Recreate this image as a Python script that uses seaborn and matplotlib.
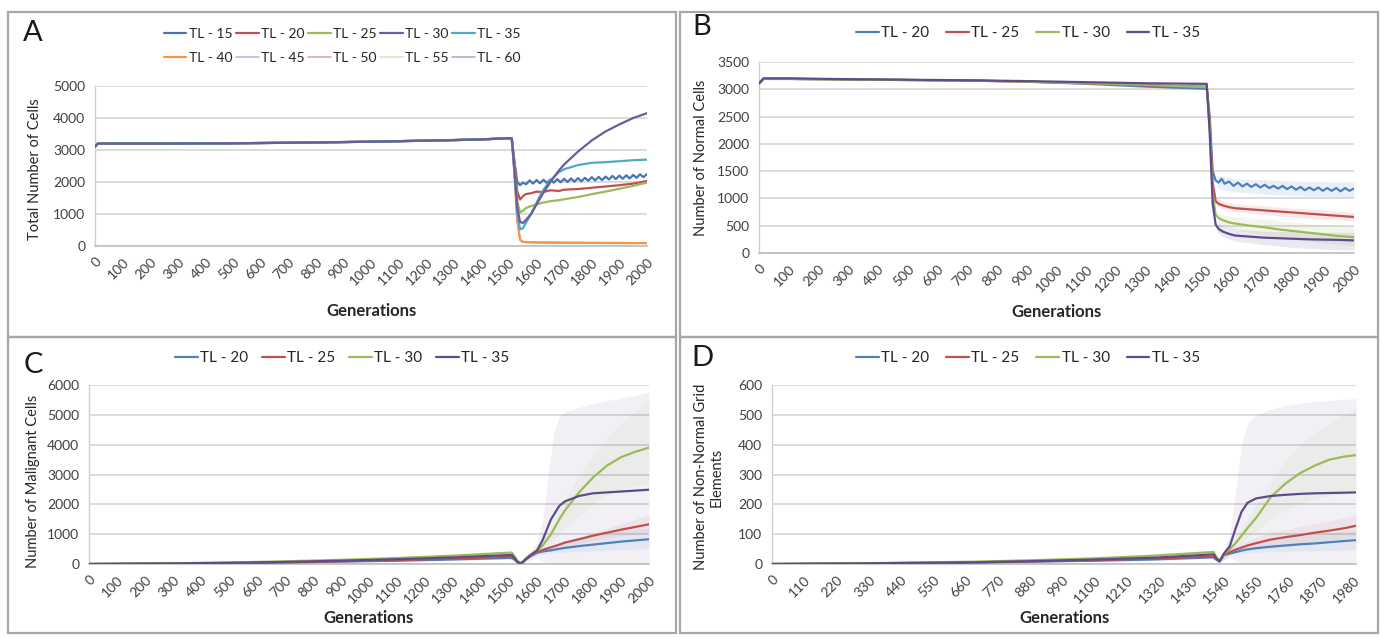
import numpy as np
import pandas as pd
import matplotlib
matplotlib.use("Agg")
import matplotlib.pyplot as plt
import seaborn as sns
from matplotlib.patches import Rectangle

# ---------------- DATA ----------------
SERIES_A = ["TL - 15", "TL - 20", "TL - 25", "TL - 30", "TL - 35",
            "TL - 40", "TL - 45", "TL - 50", "TL - 55", "TL - 60"]
SERIES_BCD = ["TL - 20", "TL - 25", "TL - 30", "TL - 35"]

# Panel A: total number of cells
A_GEN_PRE = [0, 10, 250, 500, 750, 1000, 1250, 1400, 1500, 1510]
A_PRE = [3100, 3200, 3200, 3210, 3230, 3260, 3300, 3330, 3370, 3360]
A_GEN_POST = [1520, 1530, 1540, 1550, 1560, 1580, 1600, 1620, 1650, 1680,
              1700, 1750, 1800, 1850, 1900, 1950, 2000]
A_TL15_GEN = [1520, 1530, 1540, 1550, 1562, 1575, 1587, 1600, 1612, 1625,
              1637, 1650, 1662, 1675, 1687, 1700, 1712, 1725, 1737, 1750,
              1762, 1775, 1787, 1800, 1812, 1825, 1837, 1850, 1862, 1875,
              1887, 1900, 1912, 1925, 1937, 1950, 1962, 1975, 1987, 2000]
A_TL15 = [2600, 2000, 1900, 1980, 1930, 2050, 1950, 2060, 1960, 2070,
          1970, 2080, 1980, 2090, 1990, 2100, 2000, 2110, 2010, 2120,
          2020, 2130, 2040, 2150, 2050, 2160, 2060, 2170, 2080, 2190,
          2090, 2200, 2100, 2210, 2110, 2220, 2130, 2240, 2150, 2250]
A_TL20 = [2600, 1700, 1450, 1550, 1620, 1650, 1700, 1680, 1740, 1720,
          1760, 1780, 1820, 1860, 1900, 1950, 2030]
A_TL25 = [2500, 1400, 1050, 1100, 1180, 1250, 1300, 1350, 1400, 1430,
          1460, 1530, 1620, 1700, 1790, 1880, 1980]
A_TL30 = [2400, 1200, 750, 720, 800, 1000, 1300, 1600, 2000, 2350,
          2550, 2950, 3300, 3580, 3800, 4000, 4150]
A_TL35 = [2300, 1000, 520, 550, 700, 1000, 1350, 1700, 2050, 2300,
          2400, 2530, 2600, 2620, 2650, 2680, 2700]
A_TL40 = [2200, 800, 200, 130, 120, 115, 110, 110, 105, 105,
          100, 100, 100, 95, 95, 90, 90]
A_TL45 = [2200, 800, 210, 140, 125, 120, 115, 115, 110, 110,
          105, 105, 100, 100, 100, 95, 95]
A_TL50 = [2200, 800, 190, 125, 115, 110, 108, 105, 100, 100,
          98, 96, 95, 92, 90, 88, 86]
A_TL55 = [2200, 800, 220, 145, 130, 125, 120, 118, 115, 112,
          110, 108, 105, 103, 100, 98, 96]
A_TL60 = [2200, 800, 200, 135, 122, 118, 112, 110, 108, 106,
          104, 102, 100, 98, 96, 94, 92]

# Panel B: number of normal cells
B_GEN_PRE = [0, 15, 100, 300, 500, 700, 900, 1100, 1300, 1500, 1505]
B_PRE_TL20 = [3100, 3190, 3190, 3180, 3170, 3160, 3140, 3100, 3050, 3010, 3000]
B_PRE_TL25 = [3100, 3190, 3190, 3180, 3170, 3160, 3140, 3110, 3070, 3050, 3050]
B_PRE_TL30 = [3100, 3190, 3190, 3180, 3170, 3160, 3140, 3110, 3080, 3040, 3040]
B_PRE_TL35 = [3110, 3200, 3200, 3185, 3175, 3165, 3150, 3130, 3110, 3100, 3100]
B_GEN_POST = [1515, 1525, 1535, 1545, 1560, 1580, 1600, 1650, 1700, 1750,
              1800, 1850, 1900, 1950, 2000]
B_TL20_GEN = [1515, 1525, 1535, 1545, 1555, 1565, 1580, 1595, 1610, 1625,
              1640, 1655, 1670, 1685, 1700, 1715, 1730, 1745, 1760, 1775,
              1790, 1805, 1820, 1835, 1850, 1865, 1880, 1895, 1910, 1925,
              1940, 1955, 1970, 1985, 2000]
B_POST_TL20 = [2500, 1500, 1330, 1290, 1360, 1270, 1310, 1230, 1290, 1220,
               1270, 1210, 1260, 1200, 1250, 1190, 1230, 1180, 1230, 1170,
               1220, 1160, 1210, 1150, 1200, 1150, 1200, 1140, 1190, 1140,
               1190, 1130, 1190, 1140, 1180]
B_POST_TL25 = [2400, 1300, 950, 900, 870, 840, 820, 800, 780, 760, 740, 720, 700, 680, 660]
B_POST_TL30 = [2300, 1100, 700, 640, 600, 560, 540, 500, 470, 430, 400, 370, 340, 310, 290]
B_POST_TL35 = [2200, 900, 520, 440, 390, 350, 320, 300, 280, 270, 260, 250, 245, 240, 230]
B_BAND_GEN = [1540, 1560, 1600, 1700, 1800, 1900, 2000]
B_LO_TL20 = [1200, 1150, 1120, 1080, 1050, 1040, 1030]
B_HI_TL20 = [1420, 1400, 1360, 1340, 1320, 1310, 1300]
B_LO_TL25 = [850, 800, 760, 700, 650, 620, 590]
B_HI_TL25 = [1000, 950, 900, 860, 820, 790, 740]
B_LO_TL30 = [560, 500, 430, 330, 250, 180, 130]
B_HI_TL30 = [760, 700, 660, 620, 560, 520, 480]
B_LO_TL35 = [380, 300, 220, 150, 100, 70, 50]
B_HI_TL35 = [560, 500, 440, 400, 390, 380, 380]

# Panel C: number of malignant cells
C_GEN = [0, 100, 300, 500, 700, 900, 1100, 1300, 1500, 1510, 1520, 1530, 1540,
         1550, 1560, 1580, 1600, 1620, 1650, 1680, 1700, 1750, 1800, 1850,
         1900, 1950, 2000]
C_TL20 = [0, 5, 15, 30, 50, 80, 110, 150, 200, 200, 150, 60, 20, 60, 150, 280,
          380, 420, 460, 510, 540, 600, 650, 700, 750, 790, 830]
C_TL25 = [0, 5, 15, 35, 60, 90, 130, 180, 240, 240, 170, 70, 20, 70, 160, 300,
          400, 470, 560, 650, 720, 830, 950, 1050, 1150, 1240, 1330]
C_TL30 = [0, 8, 25, 50, 90, 140, 200, 280, 380, 380, 260, 100, 30, 80, 180, 320,
          450, 620, 1000, 1500, 1800, 2400, 2900, 3300, 3580, 3760, 3900]
C_TL35 = [0, 6, 20, 40, 70, 110, 160, 220, 300, 300, 200, 80, 20, 70, 170, 320,
          450, 800, 1500, 1950, 2100, 2280, 2370, 2400, 2430, 2460, 2490]
C_BAND_GEN = [1500, 1540, 1580, 1600, 1620, 1640, 1660, 1680, 1700, 1750,
              1800, 1850, 1900, 1950, 2000]
C_HI_TL35 = [350, 40, 500, 700, 1500, 3000, 4400, 4950, 5100, 5250, 5380, 5480, 5560, 5650, 5750]
C_LO_TL35 = [250, 0, 150, 200, 100, 0, 0, 0, 0, 0, 0, 0, 0, 0, 0]
C_HI_TL30 = [500, 50, 450, 600, 800, 1100, 1400, 1800, 2200, 3000, 3700, 4200, 4700, 5100, 5500]
C_LO_TL30 = [260, 10, 200, 300, 450, 600, 800, 1000, 1200, 1600, 2000, 2300, 2500, 2600, 2700]
C_HI_TL25 = [300, 30, 350, 460, 550, 600, 660, 720, 780, 900, 1050, 1200, 1350, 1500, 1650]
C_LO_TL25 = [180, 10, 250, 340, 380, 420, 460, 520, 560, 680, 800, 880, 950, 1000, 1050]
C_HI_TL20 = [260, 30, 330, 430, 500, 550, 600, 680, 750, 850, 950, 1050, 1100, 1150, 1200]
C_LO_TL20 = [140, 10, 220, 300, 330, 350, 370, 390, 400, 420, 440, 460, 480, 500, 520]

# Panel D: number of non-normal grid elements
D_GEN = [0, 100, 300, 500, 700, 900, 1100, 1300, 1500, 1505, 1515, 1525, 1540,
         1560, 1580, 1600, 1620, 1650, 1700, 1750, 1800, 1850, 1900, 1950, 1990]
D_TL20 = [0, 0.5, 1.5, 3, 5, 8, 11, 15, 22, 22, 14, 8, 30, 35, 40, 45, 49, 53,
          58, 62, 66, 69, 73, 77, 80]
D_TL25 = [0, 0.6, 2, 3.5, 6, 9, 13, 18, 25, 25, 15, 9, 32, 40, 48, 55, 62, 70,
          82, 90, 97, 105, 112, 120, 128]
D_TL30 = [0, 0.8, 2.5, 5, 8, 13, 19, 28, 40, 40, 22, 10, 33, 50, 70, 95, 120,
          155, 225, 270, 305, 330, 350, 360, 365]
D_TL35 = [0, 0.6, 2, 4, 6, 10, 15, 21, 32, 32, 18, 9, 35, 60, 120, 175, 205,
          220, 228, 232, 235, 237, 238, 239, 240]
D_BAND_GEN = [1500, 1525, 1560, 1580, 1600, 1620, 1650, 1700, 1750, 1800,
              1850, 1900, 1950, 1990]
D_HI_TL35 = [35, 12, 100, 250, 400, 470, 500, 520, 530, 540, 545, 548, 552, 555]
D_LO_TL35 = [25, 6, 20, 10, 0, 0, 0, 0, 0, 0, 0, 0, 0, 0]
D_HI_TL30 = [50, 14, 60, 90, 120, 150, 200, 280, 350, 400, 440, 470, 500, 520]
D_LO_TL30 = [30, 8, 40, 55, 70, 90, 110, 150, 180, 200, 220, 230, 235, 240]
D_HI_TL25 = [30, 10, 48, 58, 68, 78, 90, 105, 115, 125, 135, 145, 155, 165]
D_LO_TL25 = [20, 6, 33, 38, 43, 48, 52, 60, 65, 70, 75, 80, 85, 90]
D_HI_TL20 = [26, 10, 42, 50, 58, 65, 72, 80, 88, 95, 100, 105, 110, 115]
D_LO_TL20 = [18, 6, 28, 32, 35, 37, 39, 41, 42, 43, 44, 45, 46, 48]

TICKS_ABC = list(range(0, 2001, 100))
TICKS_D = list(range(0, 1981, 110))

# ---------------- STYLE ----------------
sns.set_theme(style="white")
plt.rcParams["font.family"] = ["Lato", "DejaVu Sans"]

COL_A = ["#4A74AE", "#C0504D", "#9BBB59", "#6B5C9E", "#4BACC6",
         "#F79646", "#A9B8D6", "#D9A3A2", "#D7E4BD", "#B3A2C7"]
COL4 = ["#4F81BD", "#C0504D", "#9BBB59", "#5F4B8B"]

W, H = 1381, 637
fig = plt.figure(figsize=(W / 100, H / 100), dpi=100)
fig.patch.set_facecolor("white")


def ax_px(l, t, r, b):
    return fig.add_axes([l / W, 1 - b / H, (r - l) / W, (b - t) / H])


def fx(x):
    return x / W


def fy(y):
    return 1 - y / H


def line(ax, gens, vals, color, label, lw=1.6, z=3):
    df = pd.DataFrame({"Generations": gens, "value": vals})
    sns.lineplot(data=df, x="Generations", y="value", color=color, lw=lw,
                 label=label, ax=ax, estimator=None, sort=False, zorder=z)


def band(ax, gens, lo, hi, color, alpha=0.15):
    ax.fill_between(gens, lo, hi, color=color, alpha=alpha, lw=0, zorder=1)


def style_ax(ax, xmax, xticks, ymax, ystep):
    ax.set_xlim(0, xmax)
    ax.set_ylim(0, ymax)
    ax.set_xticks(xticks)
    ax.set_xticklabels([str(t) for t in xticks], rotation=45, ha="right",
                       va="top", rotation_mode="anchor")
    ax.set_yticks(np.arange(0, ymax + 1, ystep))
    ax.yaxis.grid(True, color="#D9D9D9", lw=1.3)
    ax.xaxis.grid(False)
    ax.set_axisbelow(True)
    for s in ["top", "right"]:
        ax.spines[s].set_visible(False)
    ax.spines["left"].set_color("#D0D0D0")
    ax.spines["bottom"].set_color("#BFBFBF")
    ax.spines["left"].set_linewidth(1.0)
    ax.spines["bottom"].set_linewidth(1.2)
    ax.tick_params(axis="both", colors="#C8C8C8", labelcolor="#404040",
                   labelsize=10, length=4, width=1, direction="out")
    ax.tick_params(axis="x", pad=3)
    ax.tick_params(axis="y", pad=3)
    ax.set_xlabel("")
    ax.set_ylabel("")
    ax.set_facecolor("none")
    if ax.get_legend() is not None:
        ax.get_legend().remove()


def legend(ax, cx, cy, ncol, fs, hl, cs, ls=0.8, rows=1):
    h, l = ax.get_legend_handles_labels()
    if rows > 1:
        # matplotlib fills legends column by column: reorder to read by rows
        order = [r * ncol + c for c in range(ncol) for r in range(rows)]
        h = [h[k] for k in order]
        l = [l[k] for k in order]
    ax.legend(h, l, loc="center", bbox_to_anchor=(fx(cx), fy(cy)),
              bbox_transform=fig.transFigure, ncol=ncol, frameon=False,
              fontsize=fs, handlelength=hl, handletextpad=0.15,
              columnspacing=cs, borderpad=0, labelspacing=ls,
              labelcolor="#262626")


# ---------------- FRAMES ----------------
for (x0, y0, x1, y1) in [(8, 12, 676, 337), (680, 12, 1378, 337),
                         (8, 337, 676, 633), (680, 337, 1378, 633)]:
    fig.add_artist(Rectangle((fx(x0), fy(y1)), (x1 - x0) / W, (y1 - y0) / H,
                             transform=fig.transFigure, fill=False,
                             ec="#A6A6A6", lw=1.6))

# ---------------- PANEL A ----------------
axA = ax_px(95, 86, 647, 246)
A_POST = [A_TL20, A_TL25, A_TL30, A_TL35, A_TL40, A_TL45, A_TL50, A_TL55, A_TL60]
A_Z = [3.0, 3.1, 3.2, 3.5, 3.3, 2.9, 2.0, 2.0, 2.0, 2.0]
line(axA, A_GEN_PRE + A_TL15_GEN, A_PRE + A_TL15, COL_A[0], SERIES_A[0], 1.6, A_Z[0])
for i, vals in enumerate(A_POST, start=1):
    lw = 1.6 if i < 6 else 1.1
    line(axA, A_GEN_PRE + A_GEN_POST, A_PRE + vals, COL_A[i], SERIES_A[i], lw, A_Z[i])
style_ax(axA, 2000, TICKS_ABC, 5000, 1000)
legend(axA, 342, 46, 5, 10, 1.65, 0.25, 0.85, rows=2)

# ---------------- PANEL B ----------------
axB = ax_px(759, 62, 1354, 253)
B_PRE = [B_PRE_TL20, B_PRE_TL25, B_PRE_TL30, B_PRE_TL35]
B_LO = [B_LO_TL20, B_LO_TL25, B_LO_TL30, B_LO_TL35]
B_HI = [B_HI_TL20, B_HI_TL25, B_HI_TL30, B_HI_TL35]
B_POST = [B_POST_TL20, B_POST_TL25, B_POST_TL30, B_POST_TL35]
for i in range(4):
    band(axB, B_BAND_GEN, B_LO[i], B_HI[i], COL4[i], 0.12)
    g = B_TL20_GEN if i == 0 else B_GEN_POST
    line(axB, B_GEN_PRE + g, B_PRE[i] + B_POST[i], COL4[i], SERIES_BCD[i], 1.6, 3)
style_ax(axB, 2000, TICKS_ABC, 3500, 500)
legend(axB, 1028, 33, 4, 11, 1.5, 1.1)

# ---------------- PANEL C ----------------
axC = ax_px(89, 385, 649, 564)
C_VALS = [C_TL20, C_TL25, C_TL30, C_TL35]
C_LO = [C_LO_TL20, C_LO_TL25, C_LO_TL30, C_LO_TL35]
C_HI = [C_HI_TL20, C_HI_TL25, C_HI_TL30, C_HI_TL35]
for i in range(4):
    band(axC, C_BAND_GEN, C_LO[i], C_HI[i], COL4[i], 0.08)
for i in range(4):
    line(axC, C_GEN, C_VALS[i], COL4[i], SERIES_BCD[i], 1.6, 3)
style_ax(axC, 2000, TICKS_ABC, 6000, 1000)
legend(axC, 342, 358, 4, 11, 1.5, 0.9)

# ---------------- PANEL D ----------------
axD = ax_px(772, 385, 1356, 564)
D_VALS = [D_TL20, D_TL25, D_TL30, D_TL35]
D_LO = [D_LO_TL20, D_LO_TL25, D_LO_TL30, D_LO_TL35]
D_HI = [D_HI_TL20, D_HI_TL25, D_HI_TL30, D_HI_TL35]
for i in range(4):
    band(axD, D_BAND_GEN, D_LO[i], D_HI[i], COL4[i], 0.08)
for i in range(4):
    line(axD, D_GEN, D_VALS[i], COL4[i], SERIES_BCD[i], 1.6, 3)
style_ax(axD, 1990, TICKS_D, 600, 100)
legend(axD, 1028, 358, 4, 11, 1.5, 1.1)

# ---------------- TEXT ----------------
for (x, y, t) in [(33, 33, "A"), (702, 27, "B"), (33, 365, "C"), (702, 358, "D")]:
    fig.text(fx(x), fy(y), t, fontsize=21, ha="center", va="center", color="#1a1a1a")

for (x, y) in [(371, 311), (1057, 312), (369, 618), (1064, 618)]:
    fig.text(fx(x), fy(y), "Generations", fontsize=12, fontweight="bold",
             ha="center", va="center", color="#262626")

fig.text(fx(35), fy(169), "Total Number of Cells", rotation=90, fontsize=10.5,
         ha="center", va="center", color="#262626")
fig.text(fx(701), fy(158), "Number of Normal Cells", rotation=90, fontsize=10.5,
         ha="center", va="center", color="#262626")
fig.text(fx(33), fy(481), "Number of Malignant Cells", rotation=90, fontsize=10.5,
         ha="center", va="center", color="#262626")
fig.text(fx(709), fy(477), "Number of Non-Normal Grid\nElements", rotation=90,
         fontsize=10.5, ha="center", va="center", multialignment="center",
         color="#262626", linespacing=1.1)

fig.savefig("out.png", dpi=100, facecolor="white")
